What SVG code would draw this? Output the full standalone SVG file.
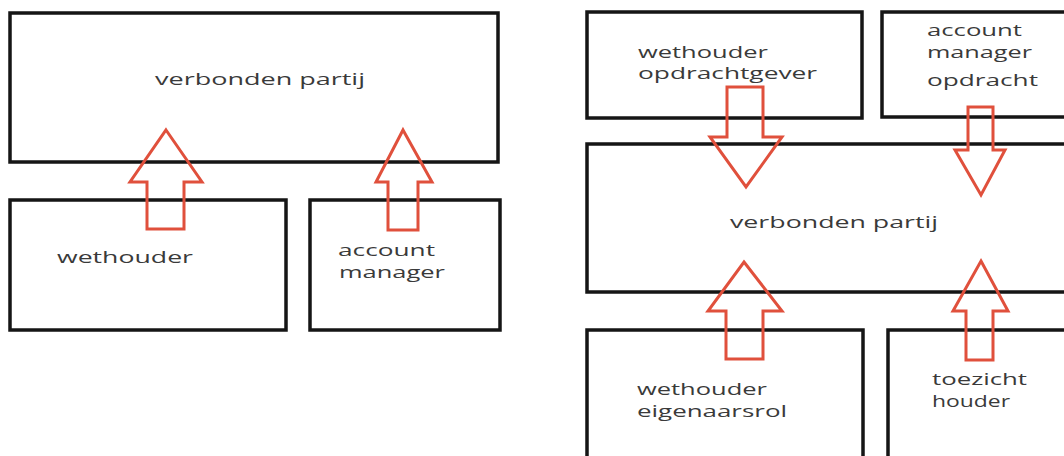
<svg xmlns="http://www.w3.org/2000/svg" width="1064" height="456" viewBox="0 0 1064 456">
<style>
.box{fill:none;stroke:#151515;stroke-width:3.5}
.lbl{font-family:"Open Sans","DejaVu Sans",sans-serif;font-size:16px;fill:#3a3a3a}
.arr{fill:none;stroke:#e0503c;stroke-width:3;stroke-linejoin:miter}
</style>
<rect width="1064" height="456" fill="#ffffff"/>
<g id="left-verbonden">
<rect class="box" x="10" y="13" width="488" height="149"/>
<text class="lbl" x="155" y="85" textLength="210" lengthAdjust="spacingAndGlyphs">verbonden partij</text>
</g>
<g id="left-wethouder">
<rect class="box" x="10" y="200" width="276" height="130"/>
<text class="lbl" x="57" y="263" textLength="136" lengthAdjust="spacingAndGlyphs">wethouder</text>
</g>
<g id="left-account">
<rect class="box" x="310" y="200" width="190" height="130"/>
<text class="lbl" x="338" y="256" textLength="97" lengthAdjust="spacingAndGlyphs">account</text>
<text class="lbl" x="339" y="278" textLength="106" lengthAdjust="spacingAndGlyphs">manager</text>
</g>
<g id="right-wethouder-opdrachtgever">
<rect class="box" x="587" y="12" width="275" height="106"/>
<text class="lbl" x="638" y="58" textLength="130" lengthAdjust="spacingAndGlyphs">wethouder</text>
<text class="lbl" x="638" y="79" textLength="179" lengthAdjust="spacingAndGlyphs">opdrachtgever</text>
</g>
<g id="right-account-opdracht">
<rect class="box" x="882" y="12" width="200" height="105"/>
<text class="lbl" x="927" y="36" textLength="95" lengthAdjust="spacingAndGlyphs">account</text>
<text class="lbl" x="927" y="58" textLength="105" lengthAdjust="spacingAndGlyphs">manager</text>
<text class="lbl" x="927" y="86" textLength="111" lengthAdjust="spacingAndGlyphs">opdracht</text>
</g>
<g id="right-verbonden">
<rect class="box" x="587" y="144" width="495" height="148"/>
<text class="lbl" x="730" y="228" textLength="208" lengthAdjust="spacingAndGlyphs">verbonden partij</text>
</g>
<g id="right-wethouder-eigenaar">
<rect class="box" x="587" y="330" width="276" height="140"/>
<text class="lbl" x="637" y="395" textLength="130" lengthAdjust="spacingAndGlyphs">wethouder</text>
<text class="lbl" x="637" y="417" textLength="150" lengthAdjust="spacingAndGlyphs">eigenaarsrol</text>
</g>
<g id="right-toezicht">
<rect class="box" x="888" y="330" width="194" height="140"/>
<text class="lbl" x="932" y="385" textLength="95" lengthAdjust="spacingAndGlyphs">toezicht</text>
<text class="lbl" x="932" y="407" textLength="78" lengthAdjust="spacingAndGlyphs">houder</text>
</g>
<g id="connectors">
<polygon class="arr" points="166,130 202,182 184,182 184,229 147,229 147,182 130,182"/>
<polygon class="arr" points="403,130 432,182 418,182 418,230 388,230 388,182 376,182"/>
<polygon class="arr" points="727,87 763,87 763,137 782,137 746,187 710,137 727,137"/>
<polygon class="arr" points="968,107 993,107 993,150 1005,150 981,195 955,150 968,150"/>
<polygon class="arr" points="744,262 782,311 763,311 763,359 726,359 726,311 708,311"/>
<polygon class="arr" points="981,261 1008,311 993,311 993,360 966,360 966,311 953,311"/>
</g>
</svg>
